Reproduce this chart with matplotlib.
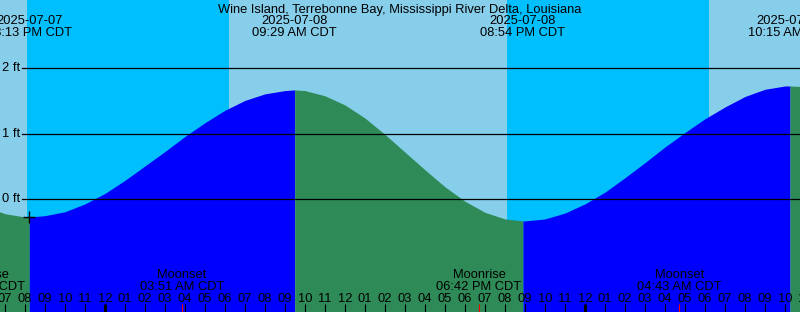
import matplotlib
matplotlib.use("Agg")
import matplotlib.pyplot as plt
from matplotlib.transforms import blended_transform_factory

plt.rcParams["font.family"] = ["Liberation Sans", "DejaVu Sans"]

# ---------------- data (hours relative to 2025-07-08 00:00 CDT) ----------------
title = "Wine Island, Terrebonne Bay, Mississippi River Delta, Louisiana"

hours = list(range(-6, 37))
heights = [-0.11, -0.22, -0.27, -0.25, -0.19, -0.07, 0.09, 0.29, 0.51, 0.73,
           0.96, 1.17, 1.36, 1.51, 1.61, 1.66, 1.66, 1.58, 1.44, 1.24,
           0.99, 0.72, 0.45, 0.19, -0.03, -0.20, -0.30, -0.33, -0.30, -0.21,
           -0.07, 0.11, 0.33, 0.56, 0.80, 1.02, 1.23, 1.41, 1.57, 1.68,
           1.73, 1.72, 1.67]

tide_times = [-3.783, 9.483, 20.9, 34.25]
tide_heights = [-0.27, 1.67, -0.33, 1.73]
tide_kinds = ["low", "high", "low", "high"]
tide_dates = ["2025-07-07", "2025-07-08", "2025-07-08", "2025-07-09"]
tide_labels = ["08:13 PM CDT", "09:29 AM CDT", "08:54 PM CDT", "10:15 AM CDT"]

sun_times = [-3.9, 6.2, 20.1, 30.2]
sun_kinds = ["set", "rise", "set", "rise"]

moon_times = [-6.15, 3.85, 18.7, 28.717]
moon_names = ["Moonrise", "Moonset", "Moonrise", "Moonset"]
moon_labels = ["05:51 PM CDT", "03:51 AM CDT", "06:42 PM CDT", "04:43 AM CDT"]

level_ticks = [0, 1, 2]
level_labels = ["0 ft", "1 ft", "2 ft"]

# ---------------- colours ----------------
day_c = "#87CEEB"
night_c = "#00BFFF"
flood_c = "#0000FF"
ebb_c = "#2E8B57"
FS = 9.3

W, H = 800, 312
fig = plt.figure(figsize=(W / 100, H / 100), dpi=100)
ax = fig.add_axes([0, 0, 1, 1])
ax.set_axis_off()

px_hour = 20.0
mid_px = 105.0
zero_px = 199.3
px_ft = 65.5
xmin, xmax = -mid_px / px_hour, (W - mid_px) / px_hour
ymin, ymax = (zero_px - H) / px_ft, zero_px / px_ft
ax.set_xlim(xmin, xmax)
ax.set_ylim(ymin, ymax)

trans = blended_transform_factory(ax.transData, fig.transFigure)
def fy(py):
    return 1 - py / H

# sky: day / night
edges = [xmin - 1] + sun_times + [xmax + 1]
state = "day" if sun_kinds[0] == "set" else "night"
for a, b in zip(edges[:-1], edges[1:]):
    ax.axvspan(a, b, color=day_c if state == "day" else night_c, lw=0, zorder=0)
    state = "night" if state == "day" else "day"

# tide curve
pts = sorted(list(zip(hours, heights)) + list(zip(tide_times, tide_heights)))
ts = [p[0] for p in pts]
hs = [p[1] for p in pts]
seg_edges = [ts[0]] + tide_times + [ts[-1]]
for i, (a, b) in enumerate(zip(seg_edges[:-1], seg_edges[1:])):
    if i < len(tide_kinds):
        rising = tide_kinds[i] == "high"
    else:
        rising = tide_kinds[-1] == "low"
    st = [t for t in ts if a <= t <= b]
    sh = [h for t, h in zip(ts, hs) if a <= t <= b]
    ax.fill_between(st, sh, ymin, color=flood_c if rising else ebb_c,
                    lw=0, zorder=1, antialiased=True)

# level lines
for lv, lab in zip(level_ticks, level_labels):
    ax.axhline(lv, xmin=22 / W, xmax=1, color="black", lw=0.9, zorder=3)
    ax.text(20 / W, lv, lab, transform=blended_transform_factory(fig.transFigure, ax.transData),
            ha="right", va="center", fontsize=FS, zorder=4)

# low tide marker
ax.plot([tide_times[0]], [tide_heights[0]], marker="+", color="black",
        ms=8, mew=1, zorder=4)

# title & tide labels
ax.text(0.5, fy(12.7), title, transform=fig.transFigure, ha="center",
        va="baseline", fontsize=FS, zorder=5)
for t, d, lab in zip(tide_times, tide_dates, tide_labels):
    ax.text(t, fy(24.3), d, transform=trans, ha="center", va="baseline", fontsize=FS, zorder=5)
    ax.text(t, fy(36.0), lab, transform=trans, ha="center", va="baseline", fontsize=FS, zorder=5)

# hour ticks and labels
for h in range(-6, 37):
    hr = h % 24
    lab = "%02d" % (12 if hr % 12 == 0 else hr % 12)
    ax.text(h, fy(301.7), lab, transform=trans, ha="center", va="baseline",
            fontsize=FS, zorder=5)
    if hr == 0:
        ax.plot([h, h], [fy(304), fy(312)], transform=trans, color="black",
                lw=2.2, solid_capstyle="butt", zorder=5)
    else:
        ax.plot([h, h], [fy(304), fy(312)], transform=trans, color="black",
                lw=0.8, solid_capstyle="butt", zorder=5)

# moon events
for t, n, lab in zip(moon_times, moon_names, moon_labels):
    ax.plot([t, t], [fy(304), fy(312)], transform=trans, color="red",
            lw=0.8, solid_capstyle="butt", zorder=6)
    ax.text(t, fy(278.3), n, transform=trans, ha="center", va="baseline", fontsize=FS, zorder=5)
    ax.text(t, fy(289.5), lab, transform=trans, ha="center", va="baseline", fontsize=FS, zorder=5)

fig.savefig("out.png", dpi=100)
